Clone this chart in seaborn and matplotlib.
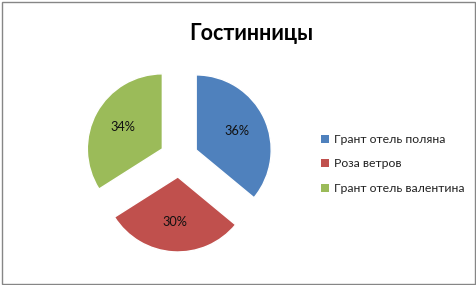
import matplotlib
matplotlib.use("Agg")
import matplotlib.pyplot as plt
from matplotlib.patches import Patch, Rectangle
import seaborn as sns

title = "Гостинницы"
hotels = ["Грант отель поляна", "Роза ветров", "Грант отель валентина"]
shares = [36, 30, 34]

sns.set_theme(style="white")
plt.rcParams["font.family"] = ["Lato", "DejaVu Sans"]
colors = sns.color_palette(["#4F81BD", "#C0504D", "#9BBB59"])

W, H, DPI = 476, 285, 100
fig = plt.figure(figsize=(W / DPI, H / DPI), dpi=DPI)
fig.patch.set_facecolor("white")

# pie axes: square region centred on the pie, radius 75 px
cx, cy, R, half = 179, 158, 75, 100
ax = fig.add_axes([(cx - half) / W, (H - cy - half) / H, 2 * half / W, 2 * half / H])
ax.pie(shares, colors=colors, startangle=90, counterclock=False,
       explode=[19 / R] * len(shares), radius=1,
       autopct="%1.0f%%", pctdistance=0.6,
       textprops=dict(fontsize=9.2, color="#111111"))
lim = half / R
ax.set_xlim(-lim, lim)
ax.set_ylim(-lim, lim)
ax.set_axis_off()

fig.text(251 / W, 1 - 34 / H, title, ha="center", va="center",
         fontsize=15.5, fontweight="bold", color="black")

handles = [Patch(facecolor=c, edgecolor="none") for c in colors]
fig.legend(handles, hotels, loc="upper left",
           bbox_to_anchor=(321 / W, 1 - 134 / H), frameon=False,
           fontsize=8.8, handlelength=0.62, handleheight=0.62,
           handletextpad=0.42, labelspacing=1.1, borderpad=0,
           borderaxespad=0, labelcolor="#222222")

# outer chart frame
fig.patches.append(Rectangle((1.5 / W, 1.5 / H), (W - 3) / W, (H - 3) / H,
                             transform=fig.transFigure, fill=False,
                             edgecolor="#868686", linewidth=1, snap=True))

fig.savefig("out.png", dpi=DPI)
